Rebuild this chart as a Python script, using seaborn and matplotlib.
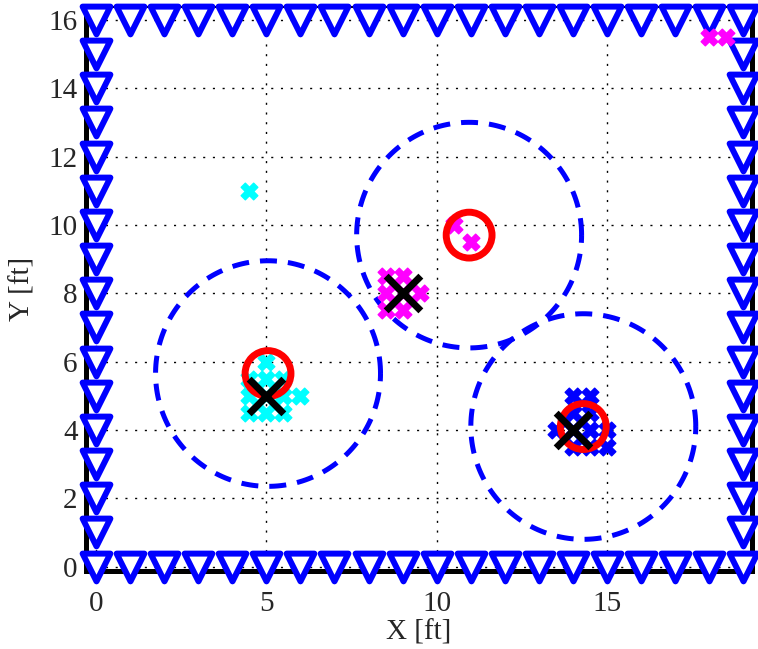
import numpy as np
import pandas as pd
import matplotlib
matplotlib.use("Agg")
import matplotlib.pyplot as plt
import seaborn as sns

# ---- data ----
anchor_top_x = list(range(0, 20))
anchor_side_y = list(range(1, 16))

cyan_x = [4.5, 5, 5.5, 4.5, 5, 5.5, 4.5, 5, 5.5, 5, 6, 4.5]
cyan_y = [4.5, 4.5, 4.5, 5, 5, 5, 5.5, 5.5, 5.5, 6, 5, 11]
magenta_x = [8.5, 9, 8.5, 9, 9.5, 8.5, 9, 10.5, 11, 18, 18.5]
magenta_y = [8.5, 8.5, 8, 8, 8, 7.5, 7.5, 10, 9.5, 15.5, 15.5]
blue_x = [14, 14.5, 14, 14.5, 13.5, 14, 14.5, 15, 14, 14.5, 15]
blue_y = [5, 5, 4.5, 4.5, 4, 4, 4, 4, 3.5, 3.5, 3.5]

true_x = [5, 9, 14]
true_y = [5, 8, 4]
est_x = [5.05, 10.95, 14.3]
est_y = [5.65, 9.7, 4.1]
est_radius = [3.3, 3.3, 3.3]

x_ticks = [0, 5, 10, 15]
y_ticks = [0, 2, 4, 6, 8, 10, 12, 14, 16]

# ---- figure ----
sns.set_style("white")
plt.rcParams["font.family"] = ["Liberation Serif", "DejaVu Serif"]

fig = plt.figure(figsize=(7.58, 6.49), dpi=100)
ax = fig.add_axes([0.1135, 0.12, 0.8786, 0.869])

# anchors along the border
ax_x = anchor_top_x + anchor_top_x + [0] * len(anchor_side_y) + [19] * len(anchor_side_y)
ax_y = [0] * len(anchor_top_x) + [16] * len(anchor_top_x) + anchor_side_y + anchor_side_y
anchors = pd.DataFrame({"x": ax_x, "y": ax_y})

# dashed estimate circles
theta = np.linspace(0, 2 * np.pi, 200)
for cx, cy, r in zip(est_x, est_y, est_radius):
    circ = pd.DataFrame({"x": cx + r * np.cos(theta), "y": cy + r * np.sin(theta)})
    sns.lineplot(data=circ, x="x", y="y", sort=False, estimator=None, ax=ax,
                 color="#0000FF", lw=3.6, linestyle=(0, (3.4, 2.2)), zorder=3)

sns.scatterplot(data=anchors, x="x", y="y", marker="v", s=20**2, facecolor="white",
                edgecolor="#0000FF", linewidth=4.3, ax=ax, zorder=4, clip_on=False)

for xs, ys, col in [(cyan_x, cyan_y, "#00FFFF"), (magenta_x, magenta_y, "#FF00FF"),
                    (blue_x, blue_y, "#0000FF")]:
    sns.scatterplot(x=xs, y=ys, marker="X", s=12**2, color=col, edgecolor=col,
                    linewidth=1, ax=ax, zorder=5, clip_on=False)

sns.scatterplot(x=est_x, y=est_y, marker="o", s=33**2, facecolor="none",
                edgecolor="#FF0000", linewidth=5, ax=ax, zorder=6)
sns.scatterplot(x=true_x, y=true_y, marker="x", s=25**2, color="black",
                linewidth=5, ax=ax, zorder=7)

ax.set_xlim(-0.29, 19.25)
ax.set_ylim(-0.13, 16.37)
ax.set_xticks(x_ticks)
ax.set_yticks(y_ticks)
ax.grid(True, color="black", linestyle=(0, (1.5, 5.5)), linewidth=1)
ax.set_axisbelow(True)
ax.tick_params(axis="x", labelsize=21, length=0, pad=14)
ax.tick_params(axis="y", labelsize=21, length=0, pad=6)
ax.set_xlabel("X [ft]", fontsize=21, labelpad=2)
ax.set_ylabel("Y [ft]", fontsize=21, labelpad=9)

for side in ["left", "bottom", "right"]:
    ax.spines[side].set_linewidth(3.6)
    ax.spines[side].set_color("black")
ax.spines["top"].set_linewidth(1.5)
ax.spines["top"].set_color("black")

fig.savefig("out.png", dpi=100)
